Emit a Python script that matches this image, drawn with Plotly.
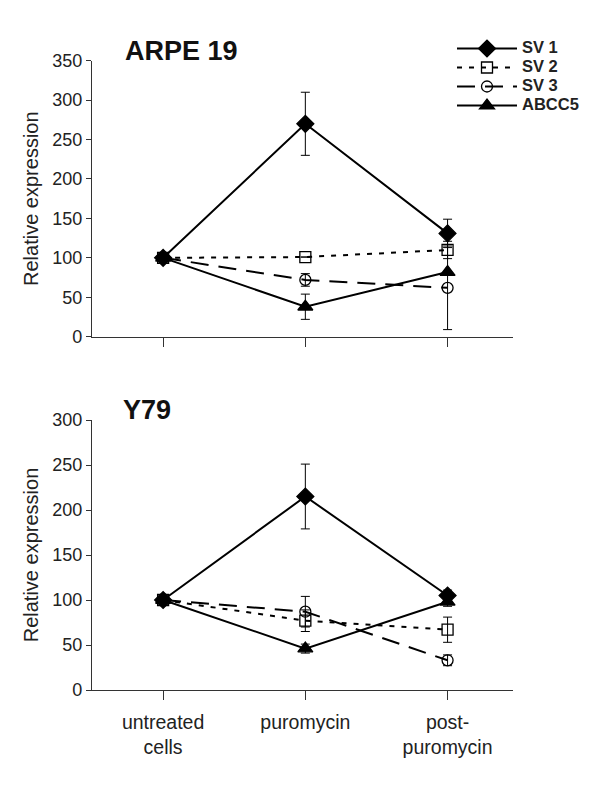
import plotly.graph_objects as go

categories = ["untreated<br>cells", "puromycin", "post-<br>puromycin"]
series_names = ["SV 1", "SV 2", "SV 3", "ABCC5"]

# ARPE 19 panel
arpe_sv1 = [100, 270, 131]
arpe_sv1_err = [0, 40, 18]
arpe_sv2 = [100, 101, 110]
arpe_sv2_err = [0, 0, 11]
arpe_sv3 = [100, 72, 62]
arpe_sv3_err = [0, 8, 53]
arpe_abcc5 = [100, 38, 82]
arpe_abcc5_err = [0, 16, 0]

# Y79 panel
y79_sv1 = [100, 215, 105]
y79_sv1_err = [0, 36, 6]
y79_sv2 = [100, 77, 67]
y79_sv2_err = [0, 12, 14]
y79_sv3 = [100, 87, 33]
y79_sv3_err = [0, 17, 6]
y79_abcc5 = [100, 46, 98]
y79_abcc5_err = [0, 5, 5]

FONT = "Arial, Liberation Sans, sans-serif"
W, H = 584, 795          # page body has an 8px margin
OFF = 8

styles = {
    "SV 1": dict(dash="solid", symbol="diamond", size=13),
    "SV 2": dict(dash="5px,7px", symbol="square-open", size=11),
    "SV 3": dict(dash="18px,10px", symbol="circle-open", size=11),
    "ABCC5": dict(dash="solid", symbol="triangle-up", size=13),
}

fig = go.Figure()

panels = [
    ("x", "y", [arpe_sv1, arpe_sv2, arpe_sv3, arpe_abcc5],
     [arpe_sv1_err, arpe_sv2_err, arpe_sv3_err, arpe_abcc5_err], True),
    ("x2", "y2", [y79_sv1, y79_sv2, y79_sv3, y79_abcc5],
     [y79_sv1_err, y79_sv2_err, y79_sv3_err, y79_abcc5_err], False),
]

for xa, ya, vals, errs, show in panels:
    for name, v, e in zip(series_names, vals, errs):
        st = styles[name]
        fig.add_trace(go.Scatter(
            x=categories, y=v,
            name=f"<span style='font-size:16.5px'>{name}</span>",
            xaxis=xa, yaxis=ya,
            mode="lines+markers", showlegend=show, legendgroup=name,
            line=dict(color="black", width=2, dash=st["dash"]),
            marker=dict(symbol=st["symbol"], size=st["size"], color="black",
                        line=dict(color="black", width=1.3)),
            error_y=dict(type="data", array=e, visible=True, color="black",
                         thickness=1, width=4.5),
            cliponaxis=False,
        ))


def px_x(x):
    return (x - OFF) / W


def px_y(y):
    return 1 - (y - OFF) / H


axis_common = dict(
    showline=True, linecolor="#333", linewidth=1.3, showgrid=False,
    zeroline=False, ticks="outside", tickcolor="#333", automargin=False,
)
ytitle = dict(text="Relative expression",
              font=dict(family=FONT, size=20, color="#222"), standoff=8)
xrange = [-0.5, 2.46]

fig.update_layout(
    width=W, height=H,
    margin=dict(l=0, r=0, t=0, b=0),
    paper_bgcolor="white", plot_bgcolor="white",
    font=dict(family=FONT, color="#222"),
    xaxis=dict(domain=[px_x(92), px_x(513)], anchor="y", type="category",
               range=xrange, showticklabels=False, ticklen=9, **axis_common),
    yaxis=dict(domain=[px_y(336.7), px_y(60.7)], anchor="x", range=[0, 350],
               dtick=50, ticklen=5, tickfont=dict(family=FONT, size=18, color="#222"),
               title=ytitle, **axis_common),
    xaxis2=dict(domain=[px_x(92), px_x(513)], anchor="y2", type="category",
                range=xrange, ticklen=9, ticklabelstandoff=5,
                tickfont=dict(family=FONT, size=19.5, color="#222"), **axis_common),
    yaxis2=dict(domain=[px_y(690), px_y(420)], anchor="x2", range=[0, 300],
                dtick=50, ticklen=5, tickfont=dict(family=FONT, size=18, color="#222"),
                title=ytitle, **axis_common),
    legend=dict(x=px_x(452), y=px_y(34), xanchor="left", yanchor="top",
                font=dict(family=FONT, size=11, color="#222", weight="bold"),
                bgcolor="rgba(0,0,0,0)", tracegroupgap=0, itemwidth=60),
    annotations=[
        dict(text="<b>ARPE 19</b>", x=px_x(181), y=px_y(51), xref="paper", yref="paper",
             xanchor="center", yanchor="middle",
             showarrow=False, font=dict(family=FONT, size=27, color="#111")),
        dict(text="<b>Y79</b>", x=px_x(147), y=px_y(410), xref="paper", yref="paper",
             xanchor="center", yanchor="middle",
             showarrow=False, font=dict(family=FONT, size=27, color="#111")),
    ],
)

fig.write_html("out.html")
